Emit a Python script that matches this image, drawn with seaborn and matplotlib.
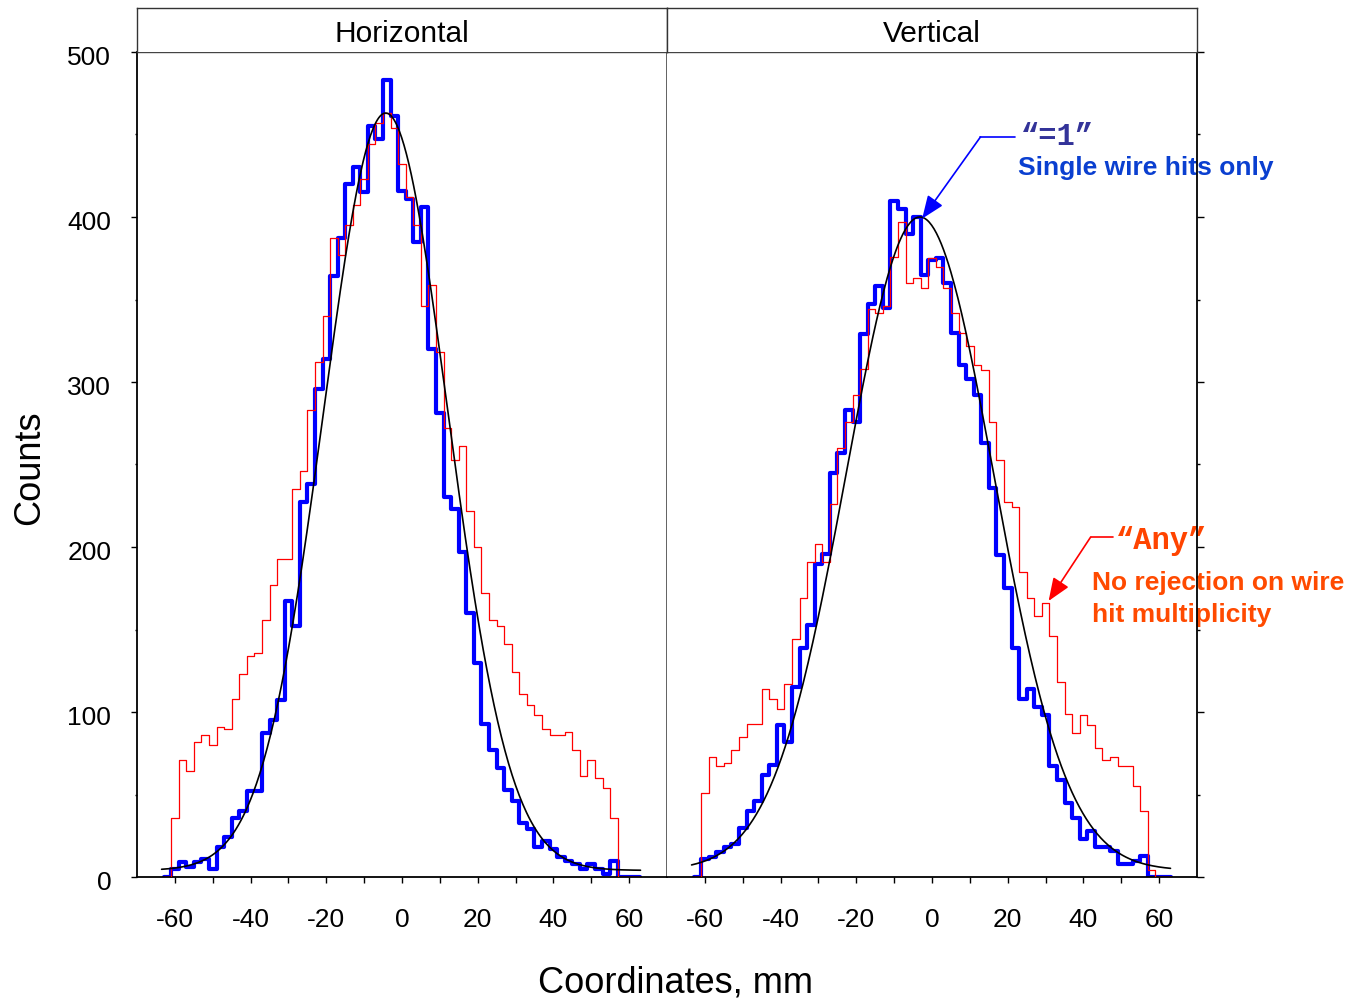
import numpy as np
import pandas as pd
import matplotlib
matplotlib.use("Agg")
import matplotlib.pyplot as plt
from matplotlib.transforms import ScaledTranslation
import seaborn as sns

# 2 mm bins from -63 mm to +63 mm
bin_range = (-63, 63)
bin_centers = np.arange(-62, 63, 2)

# Horizontal plane: counts per bin
horiz_any = [0, 36, 71, 64, 82, 86, 80, 91, 90, 108, 123, 134, 136, 156, 177, 193,
             193, 235, 246, 283, 312, 340, 387, 377, 395, 407, 423, 444, 457, 463, 454, 432,
             412, 395, 346, 359, 318, 272, 253, 261, 222, 200, 172, 156, 152, 141, 124, 111,
             104, 98, 90, 86, 86, 88, 77, 61, 71, 60, 54, 36, 0, 0, 0]
horiz_single = [0, 5, 9, 6, 9, 11, 5, 18, 24, 36, 40, 52, 52, 87, 95, 107,
                167, 152, 227, 238, 296, 314, 364, 387, 420, 430, 415, 455, 447, 483, 461, 416,
                411, 385, 406, 320, 281, 230, 223, 197, 160, 130, 93, 77, 66, 53, 46, 33,
                29, 18, 22, 17, 12, 10, 8, 5, 8, 5, 2, 10, 0, 0, 0]

# Vertical plane: counts per bin
vert_any = [0, 51, 73, 67, 69, 77, 85, 93, 93, 114, 108, 102, 117, 144, 169, 191,
            202, 191, 226, 260, 276, 292, 308, 344, 342, 346, 376, 397, 360, 363, 357, 375,
            370, 357, 342, 330, 322, 310, 307, 276, 253, 227, 224, 185, 169, 158, 166, 146,
            118, 99, 87, 98, 92, 78, 71, 73, 67, 67, 55, 40, 4, 0, 0]
vert_single = [0, 11, 12, 15, 18, 20, 30, 40, 46, 62, 68, 92, 82, 115, 139, 153,
               190, 196, 245, 257, 283, 276, 329, 347, 358, 345, 410, 405, 390, 400, 365, 374,
               375, 360, 330, 310, 302, 292, 263, 236, 195, 175, 139, 108, 114, 103, 98, 67,
               59, 45, 36, 23, 28, 18, 18, 16, 8, 8, 10, 13, 0, 0, 0]

# Gaussian + flat background fits (amplitude, mean, sigma, background)
horiz_fit = (459, -4.3, 16.4, 4)
vert_fit = (396, -3.2, 19.5, 4)
fit_span = (-63.5, 63.0)

panel_titles = ["Horizontal", "Vertical"]

sns.set_theme(style="ticks")
plt.rcParams["font.family"] = ["Liberation Sans", "DejaVu Sans"]
plt.rcParams["axes.unicode_minus"] = False

W, H = 1354, 1002
fig = plt.figure(figsize=(W / 100, H / 100), dpi=100)
fig.patch.set_facecolor("white")


def fx(px):
    return px / W


def fy(py):
    return 1 - py / H


ax_l = fig.add_axes([fx(137), fy(877), fx(667) - fx(137), fy(52) - fy(877)])
ax_r = fig.add_axes([fx(667), fy(877), fx(1197) - fx(667), fy(52) - fy(877)])

panels = [(ax_l, horiz_any, horiz_single, horiz_fit),
          (ax_r, vert_any, vert_single, vert_fit)]

for ax, any_counts, single_counts, fit in panels:
    ax.set_facecolor("white")
    hist_df = pd.DataFrame({"coord": bin_centers.astype(float),
                            "single": np.asarray(single_counts, dtype=float),
                            "any": np.asarray(any_counts, dtype=float)})
    sns.histplot(data=hist_df, x="coord", weights="single",
                 bins=len(bin_centers), binrange=bin_range,
                 element="step", fill=False, color="#0000ff", linewidth=3.0,
                 ax=ax, zorder=2)
    sns.histplot(data=hist_df, x="coord", weights="any",
                 bins=len(bin_centers), binrange=bin_range,
                 element="step", fill=False, color="#ff0000", linewidth=0.9,
                 ax=ax, zorder=3)
    amp, mu, sig, bkg = fit
    xs = np.linspace(fit_span[0], fit_span[1], 400)
    ys = bkg + amp * np.exp(-0.5 * ((xs - mu) / sig) ** 2)
    sns.lineplot(x=xs, y=ys, color="black", linewidth=1.2, estimator=None,
                 ax=ax, zorder=4)

    ax.set_xlim(-70, 70)
    ax.set_ylim(0, 500)
    ax.set_xlabel("")
    ax.set_ylabel("")
    ax.set_xticks(np.arange(-60, 61, 20))
    ax.set_xticks(np.arange(-50, 51, 20), minor=True)
    ax.set_yticks(np.arange(0, 501, 100))
    ax.set_yticks(np.arange(50, 500, 100), minor=True)
    ax.tick_params(axis="x", which="both", direction="out", length=4.5, width=1.0,
                   color="black", labelcolor="black", labelsize=19, pad=18,
                   bottom=True, top=False)
    ax.tick_params(axis="x", which="minor", labelbottom=False)
    ax.spines["bottom"].set_color("black")
    ax.spines["bottom"].set_linewidth(1.3)
    ax.spines["top"].set_color("#444444")
    ax.spines["top"].set_linewidth(1.0)

# Left panel: labelled counts axis
ax_l.tick_params(axis="y", which="major", direction="out", length=4.5, width=1.0,
                 color="black", labelcolor="black", labelsize=19, pad=14,
                 left=True, right=False)
ax_l.tick_params(axis="y", which="minor", direction="out", length=1.6, width=1.0,
                 color="black", left=True, right=False)
ax_l.spines["left"].set_color("black")
ax_l.spines["left"].set_linewidth(1.3)
ax_l.spines["right"].set_color("#555555")
ax_l.spines["right"].set_linewidth(1.3)
shift_down = ScaledTranslation(0, -2.6 / 72, fig.dpi_scale_trans)
for lab in ax_l.get_yticklabels():
    lab.set_transform(lab.get_transform() + shift_down)

# Right panel: ticks on the outer right edge, no labels
ax_r.tick_params(axis="y", which="major", direction="out", length=5, width=1.0,
                 color="black", left=False, right=True, labelleft=False, labelright=False)
ax_r.tick_params(axis="y", which="minor", direction="out", length=2.2, width=1.0,
                 color="black", left=False, right=True)
ax_r.spines["left"].set_visible(False)
ax_r.spines["right"].set_color("black")
ax_r.spines["right"].set_linewidth(1.3)

# Strip titles above each panel
for (x0, x1), title in zip([(137, 667), (667, 1197)], panel_titles):
    sax = fig.add_axes([fx(x0), fy(52), fx(x1) - fx(x0), fy(8) - fy(52)])
    sax.set_xticks([])
    sax.set_yticks([])
    sax.set_facecolor("white")
    for name, sp in sax.spines.items():
        sp.set_color("#333333")
        sp.set_linewidth(1.0)
    sax.spines["bottom"].set_visible(False)
    sax.text(0.5, 0.40, title, ha="center", va="center", fontsize=21.5,
             color="black", transform=sax.transAxes)

fig.text(fx(30), fy(468), "Counts", rotation=90, ha="center", va="center",
         fontsize=26, color="black")
fig.text(fx(676), fy(983), "Coordinates, mm", ha="center", va="center",
         fontsize=26, color="black")

# Callout for the single-hit selection
ax_r.plot([22.0, 12.8], [448.5, 448.5], color="#0000ff", lw=1.2, clip_on=False, zorder=5)
ax_r.annotate("", xy=(-2.6, 399), xytext=(12.8, 448.5),
              arrowprops=dict(arrowstyle="-|>,head_length=0.7,head_width=0.28",
                              color="#0000ff", lw=1.2, shrinkA=0, shrinkB=0,
                              mutation_scale=20),
              annotation_clip=False, zorder=5)
ax_r.text(23.4, 448.5, "\u201c=1\u201d", family=["Liberation Mono", "DejaVu Sans Mono"],
          fontweight="bold", fontsize=22, color="#333399", ha="left", va="center",
          clip_on=False, zorder=1)
ax_r.text(22.8, 429.7, "Single wire hits only", fontweight="bold", fontsize=19,
          color="#0a3fd0", ha="left", va="center", clip_on=False, zorder=1)

# Callout for the unrestricted multiplicity
ax_r.plot([47.7, 41.9], [206, 206], color="#ff0000", lw=1.2, clip_on=False, zorder=5)
ax_r.annotate("", xy=(30.8, 167.3), xytext=(41.9, 206),
              arrowprops=dict(arrowstyle="-|>,head_length=0.7,head_width=0.28",
                              color="#ff0000", lw=1.2, shrinkA=0, shrinkB=0,
                              mutation_scale=20),
              annotation_clip=False, zorder=5)
ax_r.text(48.5, 203.6, "\u201cAny\u201d", family=["Liberation Mono", "DejaVu Sans Mono"],
          fontweight="bold", fontsize=22, color="#ff4400", ha="left", va="center",
          clip_on=False, zorder=1)
ax_r.text(42.3, 178, "No rejection on wire", fontweight="bold", fontsize=19,
          color="#ff4a00", ha="left", va="center", clip_on=False, zorder=1)
ax_r.text(42.3, 158.8, "hit multiplicity", fontweight="bold", fontsize=19,
          color="#ff4a00", ha="left", va="center", clip_on=False, zorder=1)

fig.savefig("out.png", dpi=100, facecolor="white")
